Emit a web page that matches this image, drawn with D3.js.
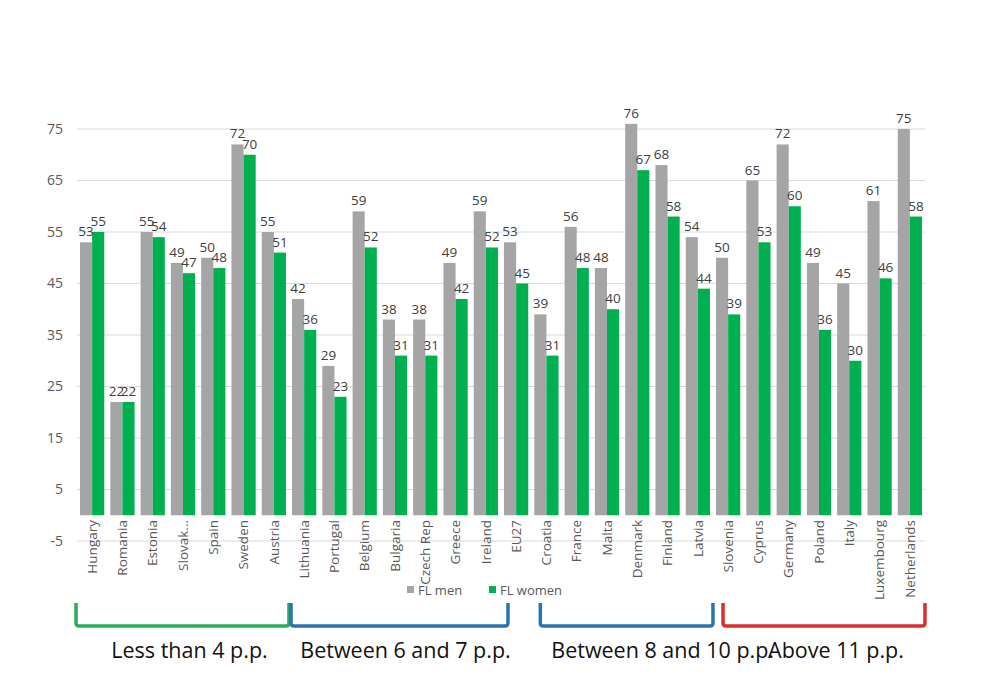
<!DOCTYPE html>
<html>
<head>
<meta charset="utf-8">
<script src="https://cdn.jsdelivr.net/npm/d3@7"></script>
<style>
  body { margin: 0; background: #fff; }
  svg { font-family: "Open Sans", "DejaVu Sans", sans-serif; }
</style>
</head>
<body>
<svg id="chart" width="986" height="700"></svg>
<script>
// data
const countries = ["Hungary", "Romania", "Estonia", "Slovak...", "Spain", "Sweden", "Austria",
  "Lithuania", "Portugal", "Belgium", "Bulgaria", "Czech Rep", "Greece", "Ireland", "EU27",
  "Croatia", "France", "Malta", "Denmark", "Finland", "Latvia", "Slovenia", "Cyprus",
  "Germany", "Poland", "Italy", "Luxembourg", "Netherlands"];
const flMen = [53, 22, 55, 49, 50, 72, 55, 42, 29, 59, 38, 38, 49, 59, 53, 39, 56, 48, 76, 68, 54, 50, 65, 72, 49, 45, 61, 75];
const flWomen = [55, 22, 54, 47, 48, 70, 51, 36, 23, 52, 31, 31, 42, 52, 45, 31, 48, 40, 67, 58, 44, 39, 53, 60, 36, 30, 46, 58];
const seriesNames = ["FL men", "FL women"];
const yTicks = [-5, 5, 15, 25, 35, 45, 55, 65, 75];
const groupLabels = ["Less than 4 p.p.", "Between 6 and 7 p.p.", "Between 8 and 10 p.p.", "Above 11 p.p."];
const groupFirst = ["Hungary", "Lithuania", "Croatia", "Slovenia"];
const groupLast = ["Austria", "Ireland", "Latvia", "Netherlands"];

// layout / style
const colors = ["#a5a5a5", "#00b050"];
const groupColors = ["#2eaa5c", "#2b72b0", "#2b72b0", "#dd2e2e"];
const labelShift = [7, 6, 36, 12];
const bracketPad = [[-1, 3], [2, 10], [9, 3], [10, 3]];

const svg = d3.select("#chart");

const x = d3.scaleBand().domain(countries).range([77, 925]).paddingInner(0.2).paddingOuter(0.1);
const xs = d3.scaleBand().domain(seriesNames).range([0, x.bandwidth()]);
const y = d3.scaleLinear().domain([-5, 75]).range([541, 129]);

// gridlines
svg.append("g").selectAll("line")
  .data(yTicks)
  .enter().append("line")
  .attr("x1", 77).attr("x2", 925)
  .attr("y1", d => y(d)).attr("y2", d => y(d))
  .attr("stroke", "#d9d9d9").attr("stroke-width", 1);

// y labels
svg.append("g").selectAll("text")
  .data(yTicks)
  .enter().append("text")
  .attr("x", 63).attr("y", d => y(d))
  .attr("dy", "0.35em")
  .attr("text-anchor", "end")
  .attr("font-size", 14)
  .attr("fill", "#595959")
  .text(d => d);

// bars
const rows = countries.map((c, i) => ({ c, vals: [flMen[i], flWomen[i]] }));
const grp = svg.append("g").selectAll("g")
  .data(rows)
  .enter().append("g")
  .attr("transform", d => `translate(${x(d.c)},0)`);

grp.selectAll("rect")
  .data(d => d.vals.map((v, k) => ({ v, k })))
  .enter().append("rect")
  .attr("x", d => xs(seriesNames[d.k]))
  .attr("width", xs.bandwidth())
  .attr("y", d => y(d.v))
  .attr("height", d => y(0) - y(d.v))
  .attr("fill", d => colors[d.k]);

grp.selectAll("text.val")
  .data(d => d.vals.map((v, k) => ({ v, k })))
  .enter().append("text")
  .attr("class", "val")
  .attr("x", d => xs(seriesNames[d.k]) + xs.bandwidth() / 2)
  .attr("y", d => y(d.v) - 6)
  .attr("text-anchor", "middle")
  .attr("font-size", 13.5)
  .attr("fill", "#404040")
  .text(d => d.v);

// category labels
svg.append("g").selectAll("text")
  .data(countries)
  .enter().append("text")
  .attr("transform", d => `translate(${x(d) + x.bandwidth() / 2},520) rotate(-90)`)
  .attr("dy", "0.35em")
  .attr("text-anchor", "end")
  .attr("font-size", 13.5)
  .attr("fill", "#595959")
  .text(d => d);

// legend
const leg = svg.append("g").attr("transform", "translate(407,590)");
const legX = [0, 82];
seriesNames.forEach((s, k) => {
  leg.append("rect").attr("x", legX[k]).attr("y", -4).attr("width", 7).attr("height", 7).attr("fill", colors[k]);
  leg.append("text").attr("x", legX[k] + 11).attr("y", 0).attr("dy", "0.35em")
    .attr("font-size", 13).attr("fill", "#595959").text(s);
});

// brackets
groupLabels.forEach((lab, i) => {
  const x0 = x(groupFirst[i]) + bracketPad[i][0] - 3;
  const x1 = x(groupLast[i]) + x.bandwidth() + bracketPad[i][1];
  const top = 603, bot = 626, r = 3;
  svg.append("path")
    .attr("d", `M${x0},${top} V${bot - r} Q${x0},${bot} ${x0 + r},${bot} H${x1 - r} Q${x1},${bot} ${x1},${bot - r} V${top}`)
    .attr("fill", "none")
    .attr("stroke", groupColors[i])
    .attr("stroke-width", 3.5);
  svg.append("text")
    .attr("x", (x0 + x1) / 2 + labelShift[i])
    .attr("y", 658)
    .attr("text-anchor", "middle")
    .attr("font-size", 21.5)
    .attr("fill", "#111")
    .text(lab);
});
</script>
</body>
</html>
